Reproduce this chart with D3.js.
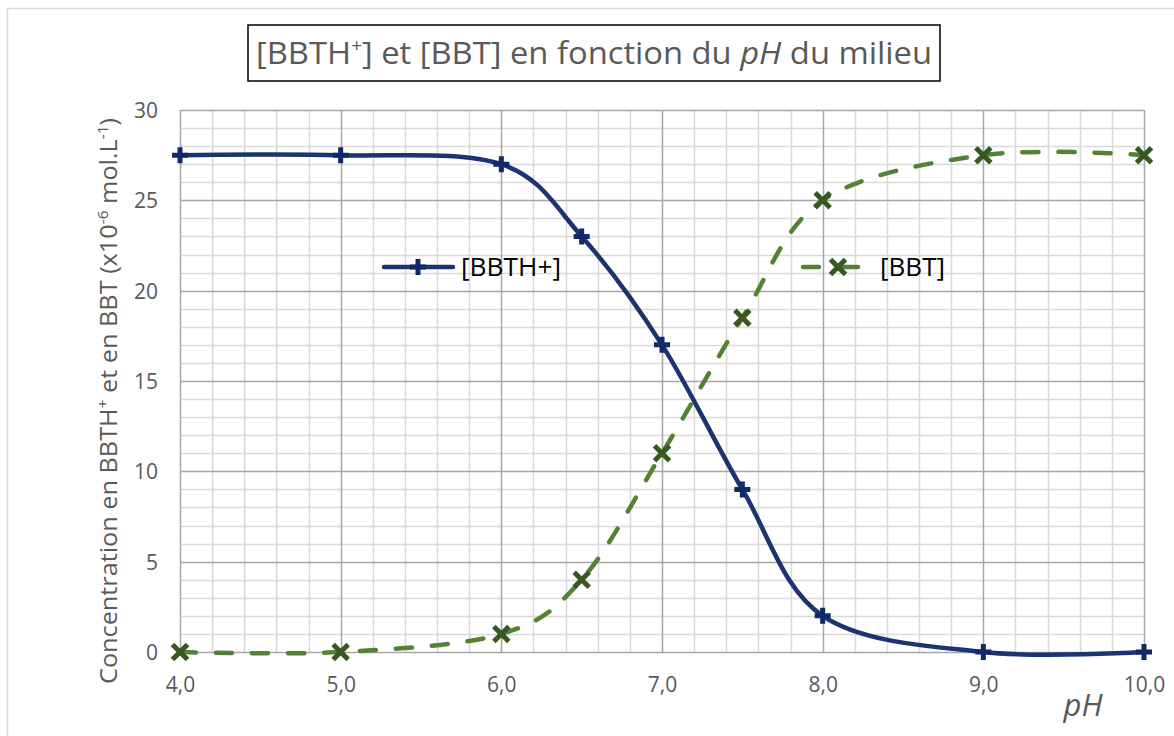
<!DOCTYPE html>
<html>
<head>
<meta charset="utf-8">
<script src="https://cdn.jsdelivr.net/npm/d3@7/dist/d3.min.js"></script>
<style>
  html, body { margin: 0; padding: 0; background: #fff; }
  svg { display: block; font-family: "Open Sans", "Noto Sans", sans-serif; }
</style>
</head>
<body>
<svg id="chart" width="1174" height="736"></svg>
<script>
// ---- Data ----
const pH = [4.0, 5.0, 6.0, 6.5, 7.0, 7.5, 8.0, 9.0, 10.0];
const bbth = [27.5, 27.5, 27.0, 23.0, 17.0, 9.0, 2.0, 0.0, 0.0];
const bbt = [0.0, 0.0, 1.0, 4.0, 11.0, 18.5, 25.0, 27.5, 27.5];
const xTicks = [4, 5, 6, 7, 8, 9, 10];
const yTicks = [0, 5, 10, 15, 20, 25, 30];
const seriesNames = ["[BBTH+]", "[BBT]"];

// ---- Layout ----
const svg = d3.select("#chart");
const W = 1174, H = 736;
const plot = { left: 180, right: 1144, top: 110, bottom: 652 };

const x = d3.scaleLinear().domain([4, 10]).range([plot.left, plot.right]);
const y = d3.scaleLinear().domain([0, 30]).range([plot.bottom, plot.top]);

// outer chart border
svg.append("rect")
  .attr("x", 7.5).attr("y", 8.5)
  .attr("width", W + 20).attr("height", H + 20)
  .attr("fill", "#fff").attr("stroke", "#d9d9d9").attr("stroke-width", 1.5);

// ---- Gridlines ----
const g = svg.append("g");
const minorX = d3.range(4, 10.0001, 0.2).filter(v => Math.abs(v - Math.round(v)) > 1e-6);
const minorY = d3.range(0, 30.0001, 1).filter(v => v % 5 !== 0);

g.selectAll(".mx").data(minorX).join("line")
  .attr("x1", d => Math.round(x(d)) + 0.5).attr("x2", d => Math.round(x(d)) + 0.5)
  .attr("y1", plot.top).attr("y2", plot.bottom)
  .attr("stroke", "#d9d9d9").attr("stroke-width", 1.5);
g.selectAll(".my").data(minorY).join("line")
  .attr("y1", d => Math.round(y(d)) + 0.5).attr("y2", d => Math.round(y(d)) + 0.5)
  .attr("x1", plot.left).attr("x2", plot.right)
  .attr("stroke", "#d9d9d9").attr("stroke-width", 1.5);
g.selectAll(".Mx").data(xTicks).join("line")
  .attr("x1", d => Math.round(x(d)) + 0.5).attr("x2", d => Math.round(x(d)) + 0.5)
  .attr("y1", plot.top).attr("y2", plot.bottom)
  .attr("stroke", "#a6a6a6").attr("stroke-width", 1.5);
g.selectAll(".My").data(yTicks).join("line")
  .attr("y1", d => Math.round(y(d)) + 0.5).attr("y2", d => Math.round(y(d)) + 0.5)
  .attr("x1", plot.left).attr("x2", plot.right)
  .attr("stroke", "#a6a6a6").attr("stroke-width", 1.5);

// ---- Axes labels (ticks) ----
const xAxis = d3.axisBottom(x).tickValues(xTicks).tickSize(0).tickPadding(0)
  .tickFormat(d => d3.format(".1f")(d).replace(".", ","));
const xg = svg.append("g").attr("transform", `translate(0,${plot.bottom})`).call(xAxis);
xg.attr("font-size", 21).attr("font-family", "Open Sans");
xg.select(".domain").remove();
xg.selectAll("text").style("font-size", "21px").attr("fill", "#595959")
  .attr("dy", null).attr("y", 40);

const yAxis = d3.axisLeft(y).tickValues(yTicks).tickSize(0).tickPadding(0);
const yg = svg.append("g").attr("transform", `translate(${plot.left - 22},0)`).call(yAxis);
yg.attr("font-size", 21).attr("font-family", "Open Sans");
yg.select(".domain").remove();
yg.selectAll("text").style("font-size", "21px").attr("fill", "#595959")
  .attr("dy", "0.35em");

// ---- Series ----
const line = d3.line().curve(d3.curveCardinal.tension(0))
  .x(d => x(d[0])).y(d => y(d[1]));

const navy = "#1b3370", navyM = "#0f2a66";
const green = "#548235", greenM = "#385723";

const ptsA = pH.map((p, i) => [p, bbth[i]]);
const ptsB = pH.map((p, i) => [p, bbt[i]]);

svg.append("path").datum(ptsB).attr("d", line)
  .attr("fill", "none").attr("stroke", green).attr("stroke-width", 4.5)
  .attr("stroke-dasharray", "16,20").attr("stroke-linecap", "round");
svg.append("path").datum(ptsA).attr("d", line)
  .attr("fill", "none").attr("stroke", navy).attr("stroke-width", 4.5)
  .attr("stroke-linejoin", "round");

function plus(sel, cx, cy) {
  sel.append("path")
    .attr("d", `M${cx - 8},${cy}H${cx + 8}M${cx},${cy - 8}V${cy + 8}`)
    .attr("stroke", navyM).attr("stroke-width", 5).attr("fill", "none");
}
function cross(sel, cx, cy) {
  const r = 7.5;
  sel.append("path")
    .attr("d", `M${cx - r},${cy - r}L${cx + r},${cy + r}M${cx - r},${cy + r}L${cx + r},${cy - r}`)
    .attr("stroke", greenM).attr("stroke-width", 5).attr("fill", "none");
}
const mk = svg.append("g");
ptsA.forEach(d => plus(mk, x(d[0]), y(d[1])));
ptsB.forEach(d => cross(mk, x(d[0]), y(d[1])));

// ---- Legend ----
const lg = svg.append("g");
lg.append("line").attr("x1", 384).attr("x2", 453).attr("y1", 267).attr("y2", 267)
  .attr("stroke", navy).attr("stroke-width", 4.5).attr("stroke-linecap", "round");
plus(lg, 418, 267);
lg.append("text").attr("x", 461).attr("y", 267).attr("dy", "0.36em")
  .attr("font-size", 25).attr("fill", "#000")
  .attr("textLength", 100).attr("lengthAdjust", "spacingAndGlyphs").text(seriesNames[0]);

lg.append("line").attr("x1", 803).attr("x2", 819).attr("y1", 267).attr("y2", 267)
  .attr("stroke", green).attr("stroke-width", 4.5).attr("stroke-linecap", "round");
lg.append("line").attr("x1", 842).attr("x2", 858).attr("y1", 267).attr("y2", 267)
  .attr("stroke", green).attr("stroke-width", 4.5).attr("stroke-linecap", "round");
cross(lg, 838, 267);
lg.append("text").attr("x", 880).attr("y", 267).attr("dy", "0.36em")
  .attr("font-size", 25).attr("fill", "#000")
  .attr("textLength", 65).attr("lengthAdjust", "spacingAndGlyphs").text(seriesNames[1]);

// ---- Title ----
svg.append("rect").attr("x", 248).attr("y", 25).attr("width", 692).attr("height", 56)
  .attr("fill", "#fff").attr("stroke", "#000").attr("stroke-width", 1.5);
const t = svg.append("text").attr("x", 256).attr("y", 64)
  .attr("font-size", 31).attr("fill", "#595959")
  .attr("textLength", 676).attr("lengthAdjust", "spacingAndGlyphs");
t.append("tspan").text("[BBTH");
t.append("tspan").attr("font-size", 18).attr("dy", -12).text("+");
t.append("tspan").attr("dy", 12).text("] et [BBT] en fonction du ");
t.append("tspan").attr("font-style", "italic").text("pH");
t.append("tspan").text(" du milieu");

// ---- Y axis title ----
const yt = svg.append("text")
  .attr("transform", `translate(117,401) rotate(-90)`)
  .attr("text-anchor", "middle").attr("font-size", 23).attr("fill", "#595959")
  .attr("textLength", 566).attr("lengthAdjust", "spacingAndGlyphs");
yt.append("tspan").text("Concentration en BBTH");
yt.append("tspan").attr("font-size", 14).attr("dy", -9).text("+");
yt.append("tspan").attr("dy", 9).text(" et en BBT (x10");
yt.append("tspan").attr("font-size", 14).attr("dy", -9).text("-6");
yt.append("tspan").attr("dy", 9).text(" mol.L");
yt.append("tspan").attr("font-size", 14).attr("dy", -9).text("-1");
yt.append("tspan").attr("dy", 9).text(")");

// ---- X axis title ----
svg.append("text").attr("x", 1083).attr("y", 716).attr("text-anchor", "middle")
  .attr("font-size", 31).attr("font-style", "italic").attr("fill", "#595959").text("pH");
</script>
</body>
</html>
